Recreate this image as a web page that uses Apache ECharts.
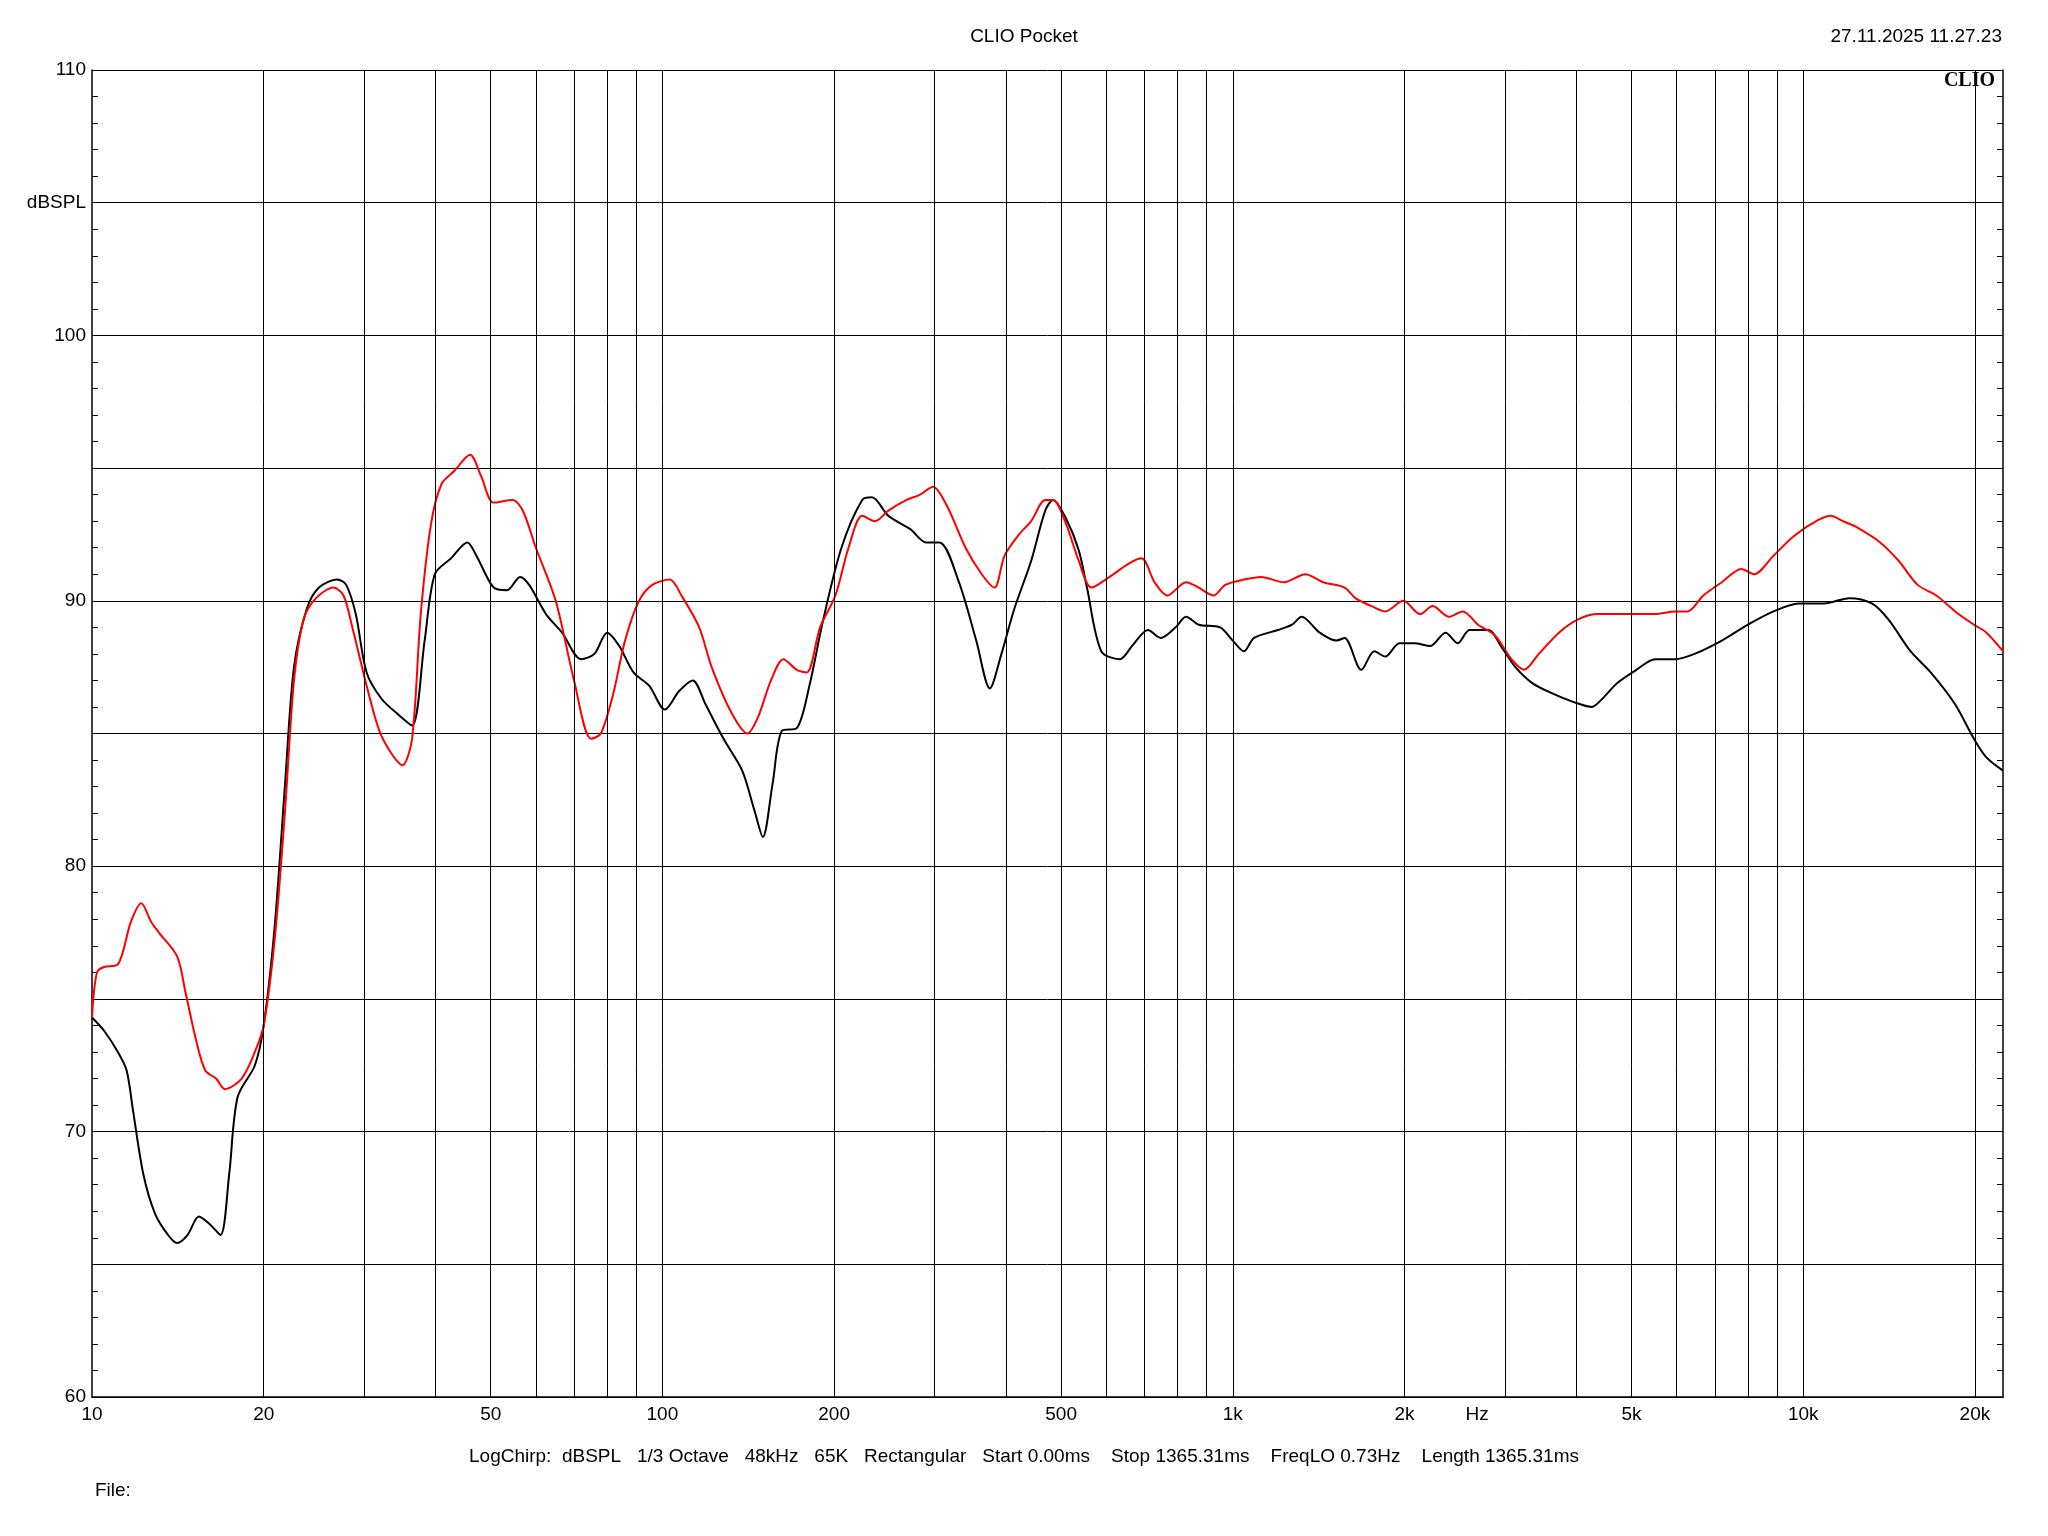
<!DOCTYPE html>
<html>
<head>
<meta charset="utf-8">
<script src="https://cdn.jsdelivr.net/npm/echarts@6/dist/echarts.min.js"></script>
<style>
  html, body { margin: 0; padding: 0; background: #fff; }
  #chart { width: 2048px; height: 1536px; }
</style>
</head>
<body>
<div id="chart"></div>
<script>
// measured curves [Hz, dBSPL]
const redCurve = [
  [10,74.3],[10.2,76.0],[10.5,76.2],[11.1,76.3],[11.7,77.9],[12.2,78.6],[12.7,77.9],[13.1,77.5],
  [14.1,76.6],[14.6,75.2],[15.2,73.5],[15.8,72.3],[16.5,72.0],[17.1,71.6],[18.3,72.0],[19.3,73.0],
  [20,74.0],[20.9,77.2],[21.8,82.1],[22.6,87.0],[23.5,89.3],[24.7,90.1],[26.5,90.5],[27.6,90.2],
  [28.6,89.0],[30.3,86.8],[31.9,85.1],[33.6,84.2],[35.0,83.8],[36.4,84.8],[37.7,89.5],[39.3,92.9],
  [41.0,94.4],[43.2,94.9],[46.0,95.5],[48.1,94.7],[50.6,93.7],[54.6,93.8],[56.9,93.4],[60,92],
  [65,90],[70,87],[75,84.8],[78,85.0],[82,86.5],[86,88.5],[91,90.0],[96,90.6],[103,90.8],
  [108,90.2],[116,89],[122,87.5],[132,85.8],[141,85.0],[147,85.6],[155,87],[163,87.8],[172,87.4],
  [179,87.3],[189,89],[201,90.2],[212,92],[224,93.2],[236,93],[249,93.4],[268,93.8],[283,94.0],
  [298,94.3],[315,93.6],[340,92],[363,91],[382,90.5],[398,91.7],[422,92.5],[443,93.0],[469,93.8],
  [484,93.8],[510,92.9],[537,91.5],[565,90.5],[608,90.9],[657,91.4],[692,91.6],[729,90.7],
  [768,90.2],[828,90.7],[871,90.5],[925,90.2],[970,90.6],[1046,90.8],[1120,90.9],[1230,90.7],
  [1340,91.0],[1440,90.7],[1570,90.5],[1640,90.1],[1750,89.8],[1850,89.6],[1990,90],[2130,89.5],
  [2240,89.8],[2390,89.4],[2530,89.6],[2690,89.1],[2880,88.7],[3080,87.8],[3240,87.4],[3440,88],
  [3730,88.8],[4030,89.3],[4370,89.5],[4720,89.5],[5100,89.5],[5500,89.5],[5960,89.6],[6270,89.6],
  [6680,90.2],[7200,90.7],[7790,91.2],[8200,91],[8870,91.7],[9590,92.4],[10340,92.9],[11160,93.2],
  [11740,93.0],[12340,92.8],[13640,92.2],[14710,91.5],[15870,90.6],[17120,90.2],[18460,89.6],
  [19920,89.1],[20950,88.8],[22400,88.1]
];
const blackCurve = [
  [10,74.3],[10.5,73.8],[11.1,73.0],[11.5,72.3],[11.8,70.8],[12.3,68.4],[12.9,66.9],[13.6,66.1],
  [14.1,65.8],[14.7,66.1],[15.4,66.8],[16.1,66.5],[16.8,66.1],[17.4,68.4],[18.0,71.3],[19.3,72.5],
  [20,74],[20.9,77.7],[21.8,83.1],[22.6,87.5],[23.8,89.7],[25,90.5],[26.9,90.8],[27.9,90.6],
  [29,89.5],[30.3,87.3],[32.2,86.3],[34.5,85.7],[36.4,85.3],[38.3,88.5],[39.9,91],[42.6,91.6],
  [45.5,92.2],[47.2,91.7],[50.6,90.5],[53.4,90.4],[56.3,90.9],[58.4,90.6],[62.5,89.5],[66.7,88.8],
  [72.0,87.8],[76.0,88.0],[80,88.8],[84,88.3],[89,87.3],[94.8,86.8],[101,85.9],[107,86.6],
  [113,87.0],[119,86.1],[128,84.8],[138,83.6],[145,82.1],[150,81.1],[156,83.1],[162,85.1],
  [172,85.2],[181,86.8],[191,89.2],[206,92],[224,93.8],[233,93.9],[249,93.2],[272,92.7],[290,92.2],
  [306,92.2],[331,90.7],[355,88.5],[375,86.7],[393,88],[414,89.7],[443,91.5],[469,93.4],[484,93.8],
  [510,93.1],[537,91.9],[555,90.5],[588,88.1],[634,87.8],[666,88.3],[710,88.9],[747,88.6],
  [794,89],[828,89.4],[871,89.1],[950,89],[1000,88.5],[1046,88.1],[1090,88.6],[1200,88.9],
  [1270,89.1],[1320,89.4],[1420,88.8],[1520,88.5],[1570,88.6],[1680,87.4],[1770,88.1],[1850,87.9],
  [1960,88.4],[2080,88.4],[2220,88.3],[2360,88.8],[2480,88.4],[2600,88.9],[2810,88.9],[2950,88.3],
  [3130,87.5],[3350,86.9],[3640,86.5],[3940,86.2],[4260,86.0],[4440,86.3],[4720,86.9],[5100,87.4],
  [5500,87.8],[5960,87.8],[6450,88.0],[7200,88.5],[8000,89.1],[8870,89.6],[9820,89.9],[10880,89.9],
  [12040,90.1],[13190,89.9],[14100,89.3],[15420,88.1],[16730,87.3],[18460,86.1],[19920,84.8],
  [20950,84.1],[22400,83.6]
];
const gridFreqs = [20,30,40,50,60,70,80,90,100,200,300,400,500,600,700,800,900,1000,
  2000,3000,4000,5000,6000,7000,8000,9000,10000,20000];
const freqLabels = [10,20,50,100,200,500,1000,2000,5000,10000,20000];
const freqLabelText = ['10','20','50','100','200','500','1k','2k','5k','10k','20k'];
const hzLabelFreq = 2680;

const font = 'Arial, "Liberation Sans", sans-serif';
const chart = echarts.init(document.getElementById('chart'));

const gridLines = gridFreqs.map(f => ({ xAxis: f, label: { show: false } }));
const labelLines = freqLabels.map((f, i) => ({ xAxis: f, label: { formatter: freqLabelText[i] } }));
labelLines.push({ xAxis: hzLabelFreq, label: { formatter: 'Hz' } });

const yAxisBase = {
  type: 'value', min: 60, max: 110, interval: 5,
  axisLine: { show: true, lineStyle: { color: '#000', width: 1.5 } },
  axisTick: { show: true, inside: true, length: 10, lineStyle: { color: '#000' } },
  minorTick: { show: true, splitNumber: 5, length: 6, lineStyle: { color: '#000' } },
};

chart.setOption({
  animation: false,
  backgroundColor: '#fff',
  grid: { left: 92, right: 45, top: 70, bottom: 139 },
  title: [
    { text: 'CLIO Pocket', left: 'center', top: 22,
      textStyle: { fontFamily: font, fontSize: 19, fontWeight: 'normal', color: '#000' } },
    { text: '27.11.2025 11.27.23', right: 41, top: 22,
      textStyle: { fontFamily: font, fontSize: 19, fontWeight: 'normal', color: '#000' } },
    { text: 'CLIO', right: 48, top: 66,
      textStyle: { fontFamily: '"Liberation Serif", serif', fontSize: 20, fontWeight: 'bold', color: '#000' } },
    { text: 'LogChirp:  dBSPL   1/3 Octave   48kHz   65K   Rectangular   Start 0.00ms    Stop 1365.31ms    FreqLO 0.73Hz    Length 1365.31ms',
      left: 'center', top: 1442,
      textStyle: { fontFamily: font, fontSize: 19, fontWeight: 'normal', color: '#000' } },
    { text: 'File:', left: 90, top: 1476,
      textStyle: { fontFamily: font, fontSize: 19, fontWeight: 'normal', color: '#000' } }
  ],
  xAxis: {
    type: 'log', logBase: 10, min: 10, max: 22400,
    axisLine: { show: true, onZero: false, lineStyle: { color: '#000', width: 1.5 } },
    axisTick: { show: false }, axisLabel: { show: false }, splitLine: { show: false }
  },
  yAxis: [
    Object.assign({}, yAxisBase, {
      position: 'left',
      axisLabel: { fontFamily: font, fontSize: 19, color: '#000', margin: 6,
        formatter: v => v % 10 === 0 ? String(v) : (v === 105 ? 'dBSPL' : '') },
      splitLine: { show: true, lineStyle: { color: '#000', width: 1 } }
    }),
    Object.assign({}, yAxisBase, {
      position: 'right', axisLabel: { show: false }, splitLine: { show: false }
    })
  ],
  series: [
    { type: 'line', data: [], markLine: { silent: true, symbol: 'none',
        lineStyle: { color: '#000', width: 1, type: 'solid' }, data: gridLines } },
    { type: 'line', data: [], markLine: { silent: true, symbol: 'none',
        lineStyle: { color: 'rgba(0,0,0,0)', width: 0 },
        label: { show: true, position: 'start', distance: 8,
          fontFamily: font, fontSize: 19, color: '#000' }, data: labelLines } },
    { name: 'black', type: 'line', data: blackCurve, showSymbol: false, smooth: 0.3,
      lineStyle: { color: '#000', width: 2 }, z: 3 },
    { name: 'red', type: 'line', data: redCurve, showSymbol: false, smooth: 0.3,
      lineStyle: { color: '#f00', width: 2 }, z: 4 }
  ]
});
</script>
</body>
</html>
